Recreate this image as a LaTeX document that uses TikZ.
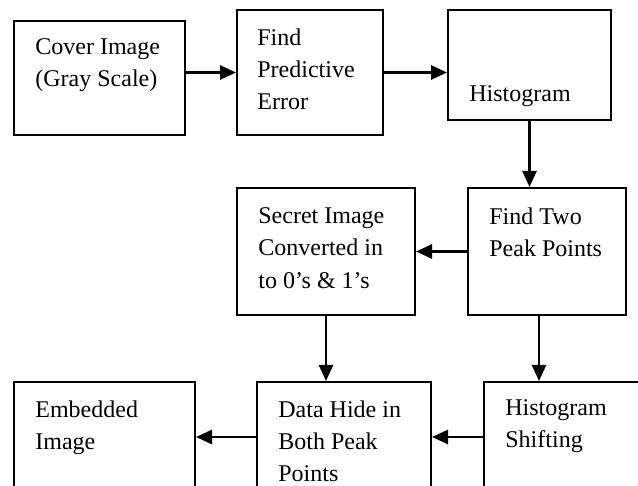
\documentclass[tikz,border=0pt]{standalone}
\usepackage{fontspec}
\setmainfont{Liberation Serif}
\usetikzlibrary{arrows.meta,fit}

\tikzset{
  box/.style={draw,line width=1pt,inner sep=0pt},
  txt/.style={anchor=north west,inner sep=0pt,align=left,
    font=\fontsize{12}{16.2}\selectfont},
  flow/.style={line width=1.3pt,-{Triangle[length=8pt,width=7pt]}}
}

\begin{document}
\begin{tikzpicture}[x=0.5pt,y=-0.5pt]
  \useasboundingbox (0,0) rectangle (638,486);
  \clip (0,0) rectangle (638,486);

  % top row
  \node[box,fit={(14,21) (185,135)}] (cover) {};
  \node[box,fit={(237,10) (383,135)}] (predict) {};
  \node[box,fit={(448,10) (611,120)}] (hist) {};
  % middle row
  \node[box,fit={(237,188) (415,315)}] (secret) {};
  \node[box,fit={(468,188) (626,315)}] (peaks) {};
  % bottom row, running off the page
  \node[box,fit={(14,382) (195,492)}] (embed) {};
  \node[box,fit={(257,382) (431,492)}] (hide) {};
  \node[box,fit={(484,382) (640,492)}] (shift) {};

  \node[txt] (cover-t) at (35,38) {Cover Image\\(Gray Scale)};
  \node[txt] (predict-t) at (257,28) {Find\\Predictive\\Error};
  \node[txt] (hist-t) at (469,85) {Histogram};
  \node[txt] (secret-t) at (258,207) {Secret Image\\Converted in\\to 0's \& 1's};
  \node[txt] (peaks-t) at (489,207) {Find Two\\Peak Points};
  \node[txt] (embed-t) at (35,400) {Embedded\\Image};
  \node[txt] (hide-t) at (278,400) {Data Hide in\\Both Peak\\Points};
  \node[txt] (shift-t) at (505,399) {Histogram\\Shifting};

  \draw[flow] (cover.east |- predict.west) -- (predict.west);
  \draw[flow] (predict.east) -- (predict.east -| hist.west);
  \draw[flow] (hist.south) -- (hist.south |- peaks.north);
  \draw[flow] (peaks.west) -- (secret.east);
  \draw[flow] (secret.south) -- (secret.south |- hide.north);
  \draw[flow] ([xshift=-4pt]peaks.south) -- ([xshift=-4pt]peaks.south |- shift.north);
  \draw[flow] (shift.west) -- (shift.west -| hide.east);
  \draw[flow] (hide.west) -- (embed.east);
\end{tikzpicture}
\end{document}
